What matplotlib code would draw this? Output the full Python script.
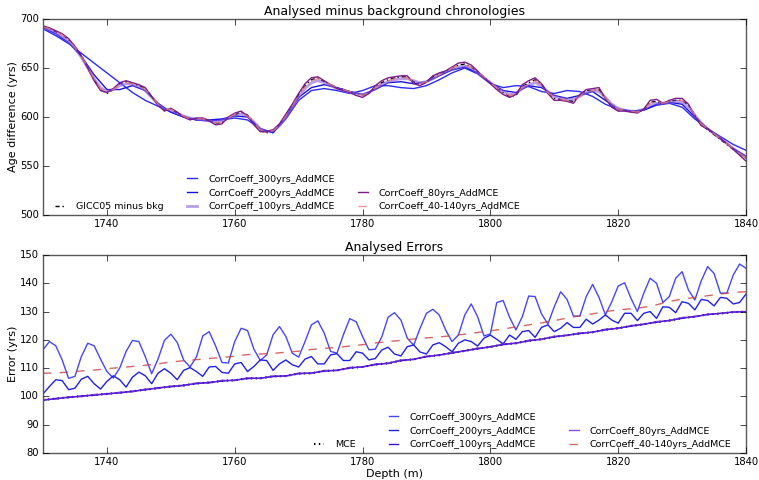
import matplotlib
matplotlib.use('Agg')
import matplotlib.pyplot as plt
from matplotlib.lines import Line2D

# Depth samples (m)
depth_1m = list(range(1730, 1841))
depth_2m = list(range(1730, 1841, 2))

# ---- Top panel: analysed minus background (yrs) ----
gicc_minus_bkg = [692, 690, 687, 684, 679, 672, 663, 651, 638, 628, 624, 628, 634, 636, 634, 632, 629, 621, 613, 607,
                  608, 604, 601, 598, 598, 598, 597, 594, 594, 599, 602, 605, 602, 594, 586, 584, 585, 592, 602, 612,
                  623, 632, 638, 640, 636, 633, 630, 628, 626, 624, 622, 624, 630, 635, 638, 640, 641, 641, 636, 633,
                  635, 641, 644, 646, 650, 653, 654, 651, 646, 641, 635, 630, 625, 621, 622, 631, 635, 638, 633, 625,
                  619, 618, 617, 616, 622, 627, 627, 628, 619, 611, 607, 607, 606, 605, 607, 615, 616, 613, 616, 617,
                  617, 612, 602, 592, 587, 582, 577, 572, 567, 562, 558]

age_300 = [690, 683, 675, 665, 655, 645, 635, 625, 617, 611, 605, 600, 597, 596, 597, 599, 597, 588, 584, 598,
           617, 627, 629, 627, 624, 627, 632, 632, 630, 629, 632, 638, 645, 650, 644, 634, 630, 632, 631, 626,
           624, 627, 626, 621, 613, 608, 606, 607, 612, 614, 610, 598, 588, 580, 572, 566]

age_200 = [691, 685, 676, 662, 643, 628, 628, 632, 627, 614, 605, 600, 597, 597, 598, 601, 600, 588, 584, 600,
           620, 630, 633, 630, 626, 623, 628, 635, 636, 634, 636, 642, 648, 651, 645, 635, 627, 625, 632, 630,
           622, 619, 622, 626, 617, 608, 606, 607, 613, 615, 613, 600, 588, 578, 568, 560]

age_100 = [691, 689, 686, 682, 677, 670, 661, 650, 639, 630, 626, 628, 632, 634, 633, 631, 627, 620, 613, 608,
           607, 604, 601, 599, 598, 597, 596, 595, 596, 599, 602, 603, 601, 595, 588, 585, 586, 591, 600, 610,
           620, 629, 635, 637, 635, 632, 629, 627, 625, 624, 623, 625, 629, 633, 636, 638, 639, 639, 637, 635,
           636, 639, 643, 646, 649, 651, 652, 650, 645, 640, 635, 630, 626, 623, 624, 629, 633, 635, 632, 626,
           621, 619, 618, 618, 621, 625, 627, 626, 620, 613, 609, 607, 606, 606, 608, 612, 614, 614, 615, 616,
           615, 610, 602, 594, 588, 583, 578, 573, 568, 563, 559]

age_80 = [693, 691, 688, 685, 680, 672, 662, 650, 637, 627, 625, 629, 635, 637, 635, 633, 630, 621, 612, 606,
          609, 605, 600, 597, 599, 599, 596, 592, 593, 600, 604, 606, 601, 592, 585, 585, 587, 593, 603, 613,
          624, 634, 640, 641, 637, 633, 629, 627, 625, 622, 620, 624, 632, 637, 640, 641, 642, 642, 634, 632,
          636, 642, 645, 647, 651, 655, 656, 653, 647, 640, 634, 628, 623, 620, 623, 633, 637, 640, 634, 624,
          617, 617, 616, 614, 623, 628, 629, 630, 619, 610, 606, 606, 605, 604, 608, 617, 618, 614, 617, 619,
          619, 613, 601, 591, 588, 583, 578, 573, 567, 561, 555]

age_40_140 = [692, 690, 687, 684, 679, 671, 662, 651, 639, 629, 625, 628, 633, 635, 634, 632, 628, 621, 613, 608,
              608, 604, 601, 598, 598, 598, 596, 594, 595, 599, 603, 604, 601, 594, 587, 585, 586, 592, 601, 611,
              622, 631, 637, 639, 636, 633, 630, 628, 626, 624, 622, 625, 630, 634, 637, 639, 640, 640, 636, 634,
              636, 640, 643, 646, 650, 653, 653, 651, 646, 641, 635, 630, 625, 622, 623, 630, 634, 637, 633, 625,
              620, 618, 617, 616, 621, 626, 627, 628, 620, 612, 608, 607, 606, 605, 607, 614, 616, 614, 616, 617,
              617, 612, 602, 593, 588, 583, 578, 573, 568, 563, 557]

# ---- Bottom panel: analysed errors (yrs) ----
err_300 = [116.5, 119.4, 117.9, 112.9, 106.4, 107.1, 114.1, 118.8, 117.9, 113.2, 108.8, 106.5, 110.0, 115.9, 119.8,
           119.4, 114.1, 108.0, 113.2, 119.8, 122.0, 119.1, 112.9, 110.4, 113.9, 121.4, 122.9, 117.9, 112.0, 111.8,
           119.4, 124.1, 123.3, 116.7, 112.7, 114.7, 121.8, 124.7, 121.2, 115.3, 113.9, 119.4, 125.3, 126.7, 122.4,
           115.9, 115.3, 121.8, 127.5, 126.4, 121.2, 116.5, 116.7, 121.0, 128.0, 129.6, 127.0, 120.6, 118.1, 124.1,
           129.4, 130.8, 128.8, 123.5, 119.4, 121.7, 128.8, 132.7, 128.2, 121.4, 122.1, 133.2, 133.9, 128.0, 123.5,
           128.2, 135.5, 135.3, 129.2, 125.6, 131.7, 137.0, 134.3, 128.4, 128.4, 135.3, 139.6, 135.0, 128.8, 133.5,
           139.0, 140.2, 134.7, 130.0, 136.5, 141.8, 140.0, 133.2, 135.3, 141.8, 144.1, 137.6, 134.1, 140.9, 145.9,
           143.5, 136.5, 136.5, 142.9, 146.8, 145.3]

err_200 = [100.9, 103.5, 105.9, 105.6, 102.4, 102.9, 106.1, 107.1, 104.5, 102.6, 105.3, 107.3, 105.9, 103.3, 106.8,
           108.6, 107.3, 104.5, 108.2, 109.8, 108.2, 105.9, 109.2, 110.2, 108.8, 107.1, 110.4, 110.6, 108.5, 108.2,
           111.5, 112.0, 108.8, 110.6, 112.9, 112.7, 109.2, 111.5, 112.9, 111.2, 110.4, 113.2, 114.1, 111.5, 111.5,
           114.7, 115.1, 112.7, 112.7, 115.8, 115.3, 112.9, 113.4, 116.4, 117.4, 115.0, 114.3, 117.6, 118.2, 115.7,
           115.0, 118.2, 119.0, 117.6, 115.8, 118.8, 120.0, 119.4, 117.8, 120.6, 121.7, 120.2, 118.6, 121.7, 120.2,
           122.9, 123.3, 120.9, 124.4, 125.3, 122.9, 124.1, 126.1, 124.4, 124.4, 127.3, 125.6, 127.0, 128.8, 127.0,
           125.9, 129.4, 129.4, 126.8, 129.4, 130.0, 127.6, 131.7, 131.5, 129.6, 133.5, 132.9, 130.6, 134.3, 133.9,
           132.0, 135.0, 134.7, 132.7, 133.2, 136.2]

err_100 = [98.6, 99.3, 99.6, 100.2, 100.4, 101.0, 101.2, 101.9, 102.3, 103.1, 103.4, 104.0, 104.5, 105.0, 105.4,
           105.8, 106.3, 106.5, 107.0, 107.3, 108.0, 108.3, 108.9, 109.3, 110.0, 110.5, 111.2, 111.8, 112.6, 113.2,
           114.0, 114.7, 115.3, 116.2, 116.8, 117.6, 118.3, 118.9, 119.6, 120.3, 121.0, 121.7, 122.2, 122.8, 123.5,
           124.2, 124.8, 125.6, 126.2, 126.9, 127.6, 128.3, 128.9, 129.4, 129.8, 130.0]

err_80 = [98.9, 99.0, 99.9, 99.9, 100.7, 100.7, 101.5, 101.6, 102.6, 102.8, 103.7, 103.7, 104.8, 104.7, 105.7,
          105.6, 106.6, 106.3, 107.3, 107.1, 108.3, 108.1, 109.2, 109.1, 110.3, 110.3, 111.5, 111.6, 112.9, 113.0,
          114.3, 114.5, 115.6, 116.0, 117.1, 117.4, 118.6, 118.7, 119.9, 120.1, 121.3, 121.5, 122.5, 122.6, 123.8,
          124.0, 125.1, 125.4, 126.5, 126.7, 127.9, 128.1, 129.1, 129.3, 129.9, 130.0]

mce = [98.8, 99.2, 99.7, 100.1, 100.5, 100.9, 101.3, 101.8, 102.4, 102.9, 103.5, 103.9, 104.6, 104.9, 105.5,
       105.7, 106.4, 106.4, 107.1, 107.2, 108.1, 108.2, 109.0, 109.2, 110.1, 110.4, 111.3, 111.7, 112.7, 113.1,
       114.1, 114.6, 115.4, 116.1, 116.9, 117.5, 118.4, 118.8, 119.7, 120.2, 121.1, 121.6, 122.3, 122.7, 123.6,
       124.1, 124.9, 125.5, 126.3, 126.8, 127.7, 128.2, 129.0, 129.3, 129.8, 130.0]

err_40_140 = [108.2, 108.3, 108.6, 109.0, 109.3, 109.8, 110.2, 110.6, 111.0, 111.5, 112.2, 112.6, 113.0, 113.4, 113.8,
              114.2, 114.8, 115.0, 115.2, 115.6, 116.0, 116.6, 117.0, 117.3, 117.8, 118.3, 118.9, 119.4, 119.8, 120.3,
              120.7, 121.0, 121.5, 122.0, 122.6, 123.2, 123.8, 124.6, 125.3, 126.0, 126.8, 127.7, 128.5, 129.2, 130.0,
              130.6, 131.0, 131.5, 132.4, 133.6, 134.4, 135.0, 135.6, 136.2, 136.8, 137.0]

LABELS = ['CorrCoeff_300yrs_AddMCE', 'CorrCoeff_200yrs_AddMCE', 'CorrCoeff_100yrs_AddMCE',
          'CorrCoeff_80yrs_AddMCE', 'CorrCoeff_40-140yrs_AddMCE']
XTICKS = [1740, 1760, 1780, 1800, 1820, 1840]

plt.style.use('classic')
plt.rcParams['font.family'] = ['DejaVu Sans']
plt.rcParams['xtick.labelsize'] = 7.2
plt.rcParams['ytick.labelsize'] = 7.2
plt.rcParams['xtick.major.pad'] = 3
plt.rcParams['ytick.major.pad'] = 3
plt.rcParams['axes.edgecolor'] = '0.35'

fig = plt.figure(figsize=(7.59, 4.8), dpi=100, facecolor='white')
ax1 = fig.add_axes([43 / 759, 1 - 215 / 480, 703 / 759, 196 / 480])
ax2 = fig.add_axes([43 / 759, 1 - 453 / 480, 703 / 759, 198 / 480])


def blank():
    return Line2D([], [], linestyle='none', marker='none')


leg_kw = dict(ncol=3, frameon=False, fontsize=6.8, handlelength=1.6,
              labelspacing=0.5, borderaxespad=0.0, handletextpad=0.9)

# Top panel
h_g, = ax1.plot(depth_1m, gicc_minus_bkg, color='k', ls=(0, (3, 2, 1, 2)), lw=1, label='GICC05 minus bkg')
h3, = ax1.plot(depth_2m, age_300, color='#2b2bff', lw=1, label=LABELS[0])
h2, = ax1.plot(depth_2m, age_200, color='#1a10e0', lw=1, label=LABELS[1])
h1, = ax1.plot(depth_1m, age_100, color='#8a5fd8', lw=2, alpha=0.6, label=LABELS[2])
h8, = ax1.plot(depth_1m, age_80, color='#7d1a8c', lw=1, label=LABELS[3])
h4, = ax1.plot(depth_1m, age_40_140, color='#e07a7a', lw=1, ls='--', alpha=0.8, label=LABELS[4])
ax1.set_xlim(1730, 1840)
ax1.set_ylim(500, 700)
ax1.set_xticks(XTICKS)
ax1.set_title('Analysed minus background chronologies', fontsize=9, pad=3)
ax1.set_ylabel('Age difference (yrs)', fontsize=8, labelpad=1)
ax1.legend([blank(), blank(), h_g, h3, h2, h1, blank(), h8, h4],
           ['', '', 'GICC05 minus bkg'] + LABELS[:3] + [''] + LABELS[3:],
           loc='lower left', bbox_to_anchor=(0.008, 0.0), columnspacing=2.2, **leg_kw)

# Bottom panel
g_m, = ax2.plot(depth_2m, mce, color='k', ls=(0, (1, 2.5)), lw=1.5, label='MCE')
g3, = ax2.plot(depth_1m, err_300, color='#4646ff', lw=1, label=LABELS[0])
g2, = ax2.plot(depth_1m, err_200, color='#2020f0', lw=1, label=LABELS[1])
g1, = ax2.plot(depth_2m, err_100, color='#3d10dc', lw=1, label=LABELS[2])
g8, = ax2.plot(depth_2m, err_80, color='#6a22d8', lw=1, alpha=0.8, label=LABELS[3])
g4, = ax2.plot(depth_2m, err_40_140, color='#cc4040', lw=1, ls='--', alpha=0.8, label=LABELS[4])
ax2.set_xlim(1730, 1840)
ax2.set_ylim(80, 150)
ax2.set_xticks(XTICKS)
ax2.set_title('Analysed Errors', fontsize=9, pad=3)
ax2.set_ylabel('Error (yrs)', fontsize=8, labelpad=1)
ax2.set_xlabel('Depth (m)', fontsize=8, labelpad=1)
ax2.legend([blank(), blank(), g_m, g3, g2, g1, blank(), g8, g4],
           ['', '', 'MCE'] + LABELS[:3] + [''] + LABELS[3:],
           loc='lower right', bbox_to_anchor=(0.985, 0.0), columnspacing=3.2, **leg_kw)

fig.savefig('out.png', dpi=100, facecolor='white')
